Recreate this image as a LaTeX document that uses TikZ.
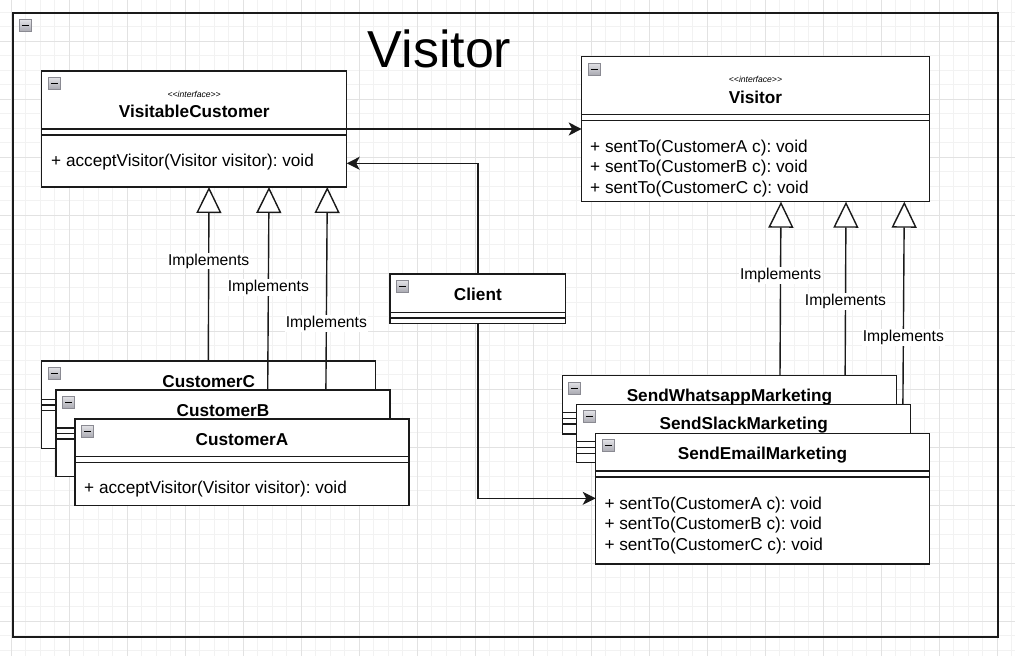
\documentclass[tikz,border=0pt]{standalone}
\usepackage{fontspec}
\setmainfont{Liberation Sans}
\usetikzlibrary{arrows.meta,calc}
\definecolor{linec}{HTML}{1A1A1A}
\definecolor{gmin}{HTML}{F2F2F2}
\definecolor{gmaj}{HTML}{E2E2E2}
\definecolor{icT}{HTML}{E2E2E6}
\definecolor{icB}{HTML}{A8A8B0}
\definecolor{icD}{HTML}{8A8A92}
\pgfdeclarelayer{gridl}\pgfdeclarelayer{low}\pgfdeclarelayer{edges}
\pgfsetlayers{gridl,low,edges,main}
\frenchspacing
\tikzset{
  cls/.style={draw=linec, fill=white, line width=1.4pt, anchor=north west, inner sep=0pt, outer sep=0pt},
  icon/.style={draw=icD, line width=0.7pt, top color=icT, bottom color=icB, minimum size=12pt, inner sep=0pt, outer sep=0pt,
    path picture={\draw[black, line width=1.3pt] ([xshift=2.6pt]path picture bounding box.west) -- ([xshift=-2.6pt]path picture bounding box.east);}},
  ln/.style={draw=linec, line width=1.4pt},
  ctitle/.style={font=\fontsize{17.2}{20}\selectfont\bfseries, anchor=base, inner sep=0pt},
  mtxt/.style={font=\fontsize{17.2}{20}\selectfont, anchor=base west, inner sep=0pt},
  stereo/.style={font=\fontsize{8.6}{10}\selectfont\itshape, anchor=base, inner sep=0pt},
  lbl/.style={font=\fontsize{15.7}{18}\selectfont, fill=white, inner sep=1pt},
  impl/.style={ln, -{Triangle[open, fill=white, length=26pt, width=25pt]}},
  arr/.style={ln, -{Stealth[length=13pt, width=13pt, inset=3.5pt]}},
}
\newcommand{\clsbox}[5]{%
  \node[cls, minimum width=#4pt, minimum height=#5pt] (#1) at (#2,#3) {};
  \node[icon] (#1-ic) at ($(#1.north west)+(12.5,12.5)$) {};
}
\newcommand{\divl}[2]{\draw[ln] ($(#1.north west)+(0,#2)$) -- ($(#1.north east)+(0,#2)$);}
\newcommand{\stereotxt}{\textless\kern0pt\textless\kern0pt interface\kern0pt\textgreater\kern0pt\textgreater}
\begin{document}
\begin{tikzpicture}[x=1pt,y=-1pt]
\useasboundingbox (0,0) rectangle (1015,656);
% grid
\begin{pgfonlayer}{gridl}
\fill[white] (0,0) rectangle (1015,656);
\foreach \k in {0,...,69}{\draw[gmin, line width=1pt] ({11.3+14.5*\k},0) -- ({11.3+14.5*\k},656);}
\foreach \k in {-2,...,42}{\draw[gmin, line width=1pt] (0,{41.3+14.5*\k}) -- (1015,{41.3+14.5*\k});}
\foreach \k in {0,...,17}{\draw[gmaj, line width=1pt] ({11.3+58*\k},0) -- ({11.3+58*\k},656);}
\foreach \k in {0,...,10}{\draw[gmaj, line width=1pt] (0,{41.3+58*\k}) -- (1015,{41.3+58*\k});}
\end{pgfonlayer}
% frame
\begin{pgfonlayer}{low}
\node[draw=linec, line width=2pt, anchor=north west, minimum width=984.8pt, minimum height=623.2pt, inner sep=0pt, outer sep=0pt] (frame) at (12.7,13.3) {};
\node[icon] (frame-ic) at ($(frame.north west)+(12.6,12.5)$) {};
\node[font=\fontsize{52}{60}\selectfont, anchor=base, inner sep=0pt] (title) at (439.5,67) {Visitor};
% CustomerC (below the edges)
\clsbox{cc}{41.7}{361}{334}{87.3}
\divl{cc}{38.5}\divl{cc}{44}\divl{cc}{49.5}
\node[ctitle] (cc-t) at ($(cc.north)+(0,26.2)$) {CustomerC};
\end{pgfonlayer}
% VisitableCustomer
\clsbox{vc}{41.7}{71}{305}{116}
\divl{vc}{58}\divl{vc}{64}
\node[stereo] (vc-st) at ($(vc.north)+(0,26.1)$) {\stereotxt};
\node[ctitle] (vc-t) at ($(vc.north)+(0,46.2)$) {VisitableCustomer};
\node[mtxt] (vc-m1) at ($(vc.north west)+(9.3,95.2)$) {+ acceptVisitor(Visitor visitor): void};
% Visitor interface
\clsbox{vis}{581.7}{56.7}{347.6}{145}
\divl{vis}{57.6}\divl{vis}{63.6}
\node[stereo] (vis-st) at ($(vis.north)+(0,25.4)$) {\stereotxt};
\node[ctitle] (vis-t) at ($(vis.north)+(0,46.8)$) {Visitor};
\node[mtxt] (vis-m1) at ($(vis.north west)+(8.3,96.2)$) {+ sentTo(CustomerA c): void};
\node[mtxt] (vis-m2) at ($(vis.north west)+(8.3,115.5)$) {+ sentTo(CustomerB c): void};
\node[mtxt] (vis-m3) at ($(vis.north west)+(8.3,136.8)$) {+ sentTo(CustomerC c): void};
% Client
\clsbox{cl}{390}{274}{175.7}{49.3}
\divl{cl}{38.3}\divl{cl}{44}
\node[ctitle] (cl-t) at ($(cl.north)+(0,26.2)$) {Client};
% CustomerB, CustomerA
\clsbox{cb}{56}{390}{334}{86.7}
\divl{cb}{38}\divl{cb}{43.5}\divl{cb}{49}
\node[ctitle] (cb-t) at ($(cb.north)+(0,26.2)$) {CustomerB};
\clsbox{ca}{75}{419}{334}{86.7}
\divl{ca}{37.7}\divl{ca}{43.7}
\node[ctitle] (ca-t) at ($(ca.north)+(0,26.5)$) {CustomerA};
\node[mtxt] (ca-m1) at ($(ca.north west)+(9,74.9)$) {+ acceptVisitor(Visitor visitor): void};
% Marketing classes
\clsbox{wa}{562.3}{375.7}{334.4}{58.3}
\divl{wa}{37}\divl{wa}{42.6}\divl{wa}{48.3}
\node[ctitle] (wa-t) at ($(wa.north)+(0,25.5)$) {SendWhatsappMarketing};
\clsbox{sl}{576.7}{404.3}{334}{58.4}
\divl{sl}{37.4}\divl{sl}{43.4}\divl{sl}{49}
\node[ctitle] (sl-t) at ($(sl.north)+(0,25.2)$) {SendSlackMarketing};
\clsbox{em}{595.7}{433.3}{333.6}{130.7}
\divl{em}{37.7}\divl{em}{43.7}
\node[ctitle] (em-t) at ($(em.north)+(0,26.2)$) {SendEmailMarketing};
\node[mtxt] (em-m1) at ($(em.north west)+(8.6,76.2)$) {+ sentTo(CustomerA c): void};
\node[mtxt] (em-m2) at ($(em.north west)+(8.6,96.2)$) {+ sentTo(CustomerB c): void};
\node[mtxt] (em-m3) at ($(em.north west)+(8.6,117.2)$) {+ sentTo(CustomerC c): void};
% connectors
\begin{pgfonlayer}{edges}
\draw[impl] ($(cc.north west)+(166.6,0)$) -- node[lbl, pos=0.575] (l1) {Implements} ($(vc.south west)+(167.3,0)$);
\draw[impl] ($(cb.north west)+(211.7,0)$) -- node[lbl, pos=0.504] (l2) {Implements} ($(vc.south west)+(227.3,0)$);
\draw[impl] ($(ca.north west)+(250.7,0)$) -- node[lbl, pos=0.4125] (l3) {Implements} ($(vc.south west)+(285.6,0)$);
\draw[impl] ($(wa.north west)+(217.7,0)$) -- node[lbl, pos=0.575] (r1) {Implements} ($(vis.south west)+(199.3,0)$);
\draw[impl] ($(sl.north west)+(268.3,0)$) -- node[lbl, pos=0.506] (r2) {Implements} ($(vis.south west)+(264.3,0)$);
\draw[impl] ($(em.north west)+(307,0)$) -- node[lbl, pos=0.413] (r3) {Implements} ($(vis.south west)+(322.6,0)$);
\draw[arr] (vc.east |- 0,129) -- (vis.west |- 0,129);
\draw[arr] (cl.north) |- (vc.east |- 0,163.3);
\draw[arr] (cl.south) |- (em.west |- 0,498.3);
\end{pgfonlayer}
\end{tikzpicture}
\end{document}
